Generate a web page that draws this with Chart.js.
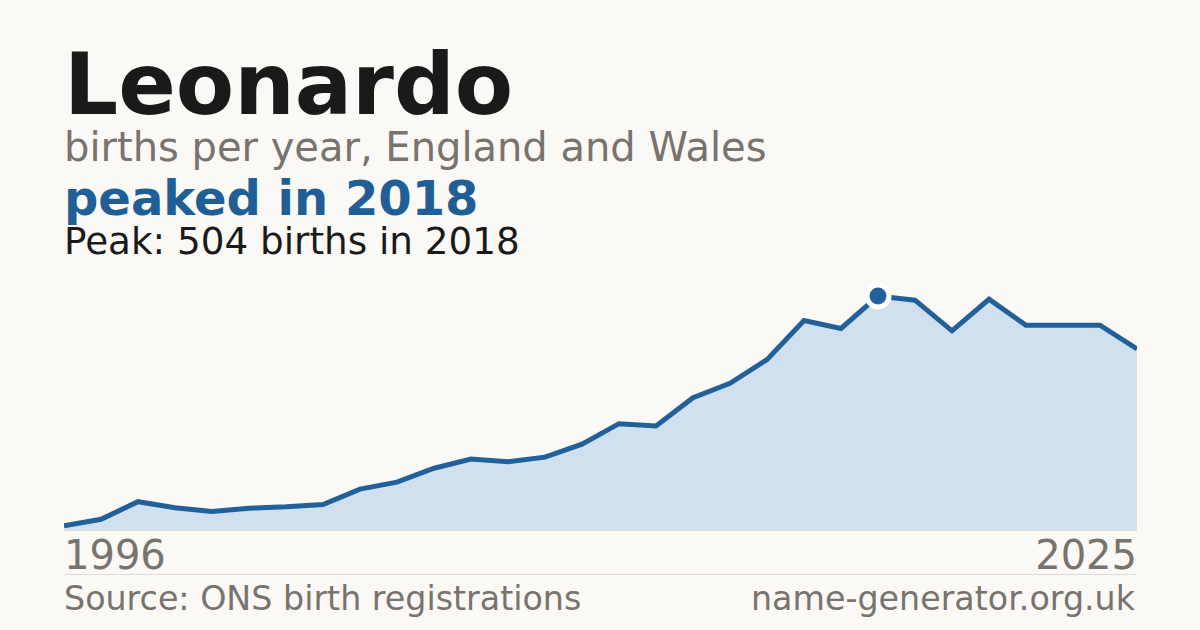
<!DOCTYPE html>
<html>
<head>
<meta charset="utf-8">
<script src="https://cdn.jsdelivr.net/npm/chart.js@4/dist/chart.umd.min.js"></script>
<style>
  html, body { margin: 0; padding: 0; }
  body {
    width: 1200px; height: 630px; overflow: hidden; position: relative;
    background: #faf9f5; font-family: "DejaVu Sans", sans-serif;
  }
  .t { position: absolute; white-space: nowrap; line-height: 1; }
  #title    { left: 64px; font-size: 85px; font-weight: bold; color: #1a1a1a; }
  #subtitle { left: 64px; font-size: 40px; color: #78736d; }
  #headline { left: 64px; font-size: 48px; font-weight: bold; color: #1f5f96; }
  #peak     { left: 64px; font-size: 37.3px; color: #1a1a1a; }
  .yr       { font-size: 40px; color: #78736d; }
  .foot     { font-size: 33.3px; color: #78736d; }
  .rule     { position: absolute; left: 64px; width: 1073px; height: 1px; background: #dedbd4; }
  #wrap     { position: absolute; left: 64px; top: 270px; width: 1073px; height: 260px; }
</style>
</head>
<body>
<div id="title" class="t">Leonardo</div>
<div id="subtitle" class="t">births per year, England and Wales</div>
<div id="headline" class="t">peaked in 2018</div>
<div id="peak" class="t">Peak: 504 births in 2018</div>

<div id="wrap"><canvas id="chart"></canvas></div>
<div class="rule" style="top:530px"></div>
<div class="rule" style="top:574px"></div>

<div id="yrStart" class="t yr" style="left:64px">1996</div>
<div id="yrEnd" class="t yr" style="right:63px">2025</div>
<div id="src" class="t foot" style="left:64px">Source: ONS birth registrations</div>
<div id="site" class="t foot" style="right:65px">name-generator.org.uk</div>

<script>
// ---- data ----
const years = [1996, 1997, 1998, 1999, 2000, 2001, 2002, 2003, 2004, 2005,
               2006, 2007, 2008, 2009, 2010, 2011, 2012, 2013, 2014, 2015,
               2016, 2017, 2018, 2019, 2020, 2021, 2022, 2023, 2024, 2025];
const births = [9, 23, 61, 48, 40, 47, 50, 55, 88, 103,
                133, 153, 147, 157, 185, 229, 224, 285, 316, 367,
                451, 434, 504, 495, 429, 497, 441, 441, 441, 390];
const peakYear = 2018;
const yMax = 560;

// place text by baseline (DejaVu: baseline ~0.846em below top at line-height 1)
function placeBaseline(id, baseline) {
  const el = document.getElementById(id);
  const size = parseFloat(getComputedStyle(el).fontSize);
  el.style.top = (baseline - 0.846 * size) + 'px';
}
placeBaseline('title', 114);
placeBaseline('subtitle', 161);
placeBaseline('headline', 215);
placeBaseline('peak', 255);
placeBaseline('yrStart', 569);
placeBaseline('yrEnd', 569);
placeBaseline('src', 610);
placeBaseline('site', 610);

const BLUE = '#22609a';
const peakIdx = years.indexOf(peakYear);

new Chart(document.getElementById('chart'), {
  type: 'line',
  data: {
    labels: years,
    datasets: [{
      data: births,
      borderColor: BLUE,
      borderWidth: 5,
      backgroundColor: '#d0e0ef',
      fill: 'origin',
      tension: 0,
      clip: false,
      pointRadius: births.map((_, i) => i === peakIdx ? 11 : 0),
      pointBackgroundColor: BLUE,
      pointBorderColor: '#ffffff',
      pointBorderWidth: 5,
      pointHoverRadius: 0
    }]
  },
  options: {
    responsive: true,
    maintainAspectRatio: false,
    animation: false,
    layout: { padding: 0 },
    scales: {
      x: { display: false, offset: false },
      y: { display: false, min: 0, max: yMax }
    },
    plugins: {
      legend: { display: false },
      tooltip: { enabled: false }
    }
  }
});
</script>
</body>
</html>
